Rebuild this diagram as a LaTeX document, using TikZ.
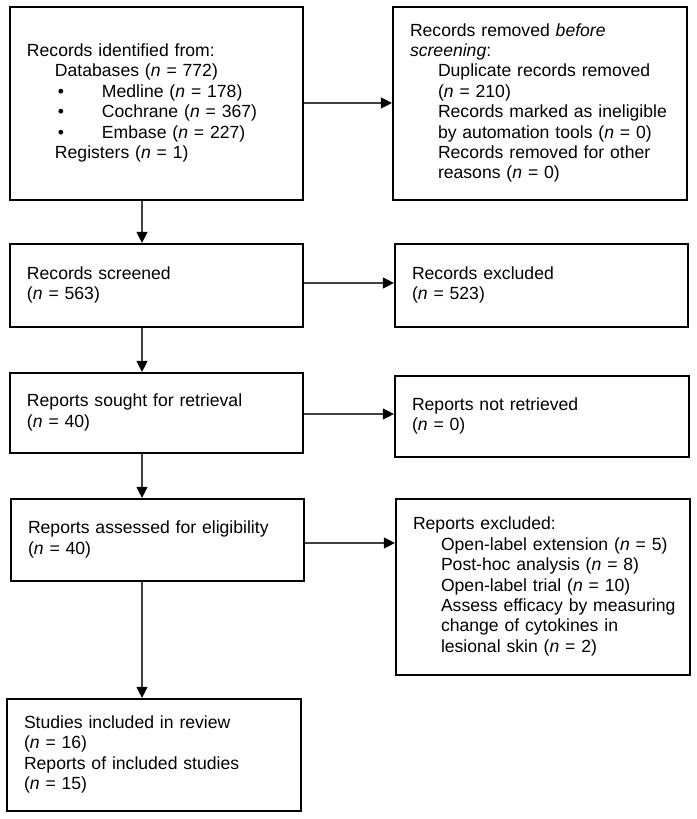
\documentclass[tikz,border=0pt]{standalone}
\usepackage{fontspec}
\setmainfont{Liberation Sans}
\usetikzlibrary{arrows.meta}
\newcommand{\fs}{\fontsize{17.6pt}{20.4pt}\selectfont}
\newcommand{\ind}{\hspace*{28pt}}
\newcommand{\bul}{\hspace*{31pt}\makebox[44pt][l]{•}}
\newcommand{\nn}{\textit{n}}
\begin{document}
\begin{tikzpicture}[x=1pt,y=-1pt,
  box/.style={draw=black, line width=2.2pt, inner xsep=17pt, inner ysep=2pt, align=left, font=\fs},
  arr/.style={draw=black!75, line width=1.2pt, -{Triangle[length=11pt,width=11pt,color=black]}}]
\useasboundingbox[fill=white] (0,0) rectangle (696,819);
\node[box, text width=259pt, minimum height=193pt] (b1) at (156.5,103.5) {\begin{tabular}{@{}l@{}}
Records identified from:\\
\ind Databases (\nn{} = 772)\\
\bul Medline (\nn{} = 178)\\
\bul Cochrane (\nn{} = 367)\\
\bul Embase (\nn{} = 227)\\
\ind Registers (\nn{} = 1)
\end{tabular}};
\node[box, text width=260pt, minimum height=193pt] (b2) at (540,103.5) {\begin{tabular}{@{}l@{}}
Records removed \textit{before}\\
\textit{screening}:\\
\ind Duplicate records removed\\
\ind (\nn{} = 210)\\
\ind Records marked as ineligible\\
\ind by automation tools (\nn{} = 0)\\
\ind Records removed for other\\
\ind reasons (\nn{} = 0)
\end{tabular}};
\node[box, text width=259pt, minimum height=83pt] (b3) at (156.5,285.5) {\begin{tabular}{@{}l@{}}
Records screened\\
(\nn{} = 563)
\end{tabular}};
\node[box, text width=259pt, minimum height=83pt] (b4) at (541.5,285.5) {\begin{tabular}{@{}l@{}}
Records excluded\\
(\nn{} = 523)
\end{tabular}};
\node[box, text width=259pt, minimum height=80pt] (b5) at (156.5,413) {\begin{tabular}{@{}l@{}}
Reports sought for retrieval\\
(\nn{} = 40)
\end{tabular}};
\node[box, text width=260pt, minimum height=81pt] (b6) at (542,416.5) {\begin{tabular}{@{}l@{}}
Reports not retrieved\\
(\nn{} = 0)
\end{tabular}};
\node[box, text width=259pt, minimum height=82pt] (b7) at (157.5,540) {\begin{tabular}{@{}l@{}}
Reports assessed for eligibility\\
(\nn{} = 40)
\end{tabular}};
\node[box, text width=260pt, minimum height=176pt] (b8) at (543,587) {\begin{tabular}{@{}l@{}}
Reports excluded:\\
\ind Open-label extension (\nn{} = 5)\\
\ind Post-hoc analysis (\nn{} = 8)\\
\ind Open-label trial (\nn{} = 10)\\
\ind Assess efficacy by measuring\\
\ind change of cytokines in\\
\ind lesional skin (\nn{} = 2)
\end{tabular}};
\node[box, text width=260pt, minimum height=112pt] (b9) at (154,755) {\begin{tabular}{@{}l@{}}
Studies included in review\\
(\nn{} = 16)\\
Reports of included studies\\
(\nn{} = 15)
\end{tabular}};
\coordinate (ax) at (142,0);
\coordinate (y1) at (0,103);
\coordinate (y3) at (0,283);
\coordinate (y5) at (0,414);
\coordinate (y7) at (0,543);
\draw[arr] (b1.south -| ax) -- (b3.north -| ax);
\draw[arr] (b3.south -| ax) -- (b5.north -| ax);
\draw[arr] (b5.south -| ax) -- (b7.north -| ax);
\draw[arr] (b7.south -| ax) -- (b9.north -| ax);
\draw[arr] (b1.east |- y1) -- (b2.west |- y1);
\draw[arr] (b3.east |- y3) -- (b4.west |- y3);
\draw[arr] (b5.east |- y5) -- (b6.west |- y5);
\draw[arr] (b7.east |- y7) -- (b8.west |- y7);
\end{tikzpicture}
\end{document}
